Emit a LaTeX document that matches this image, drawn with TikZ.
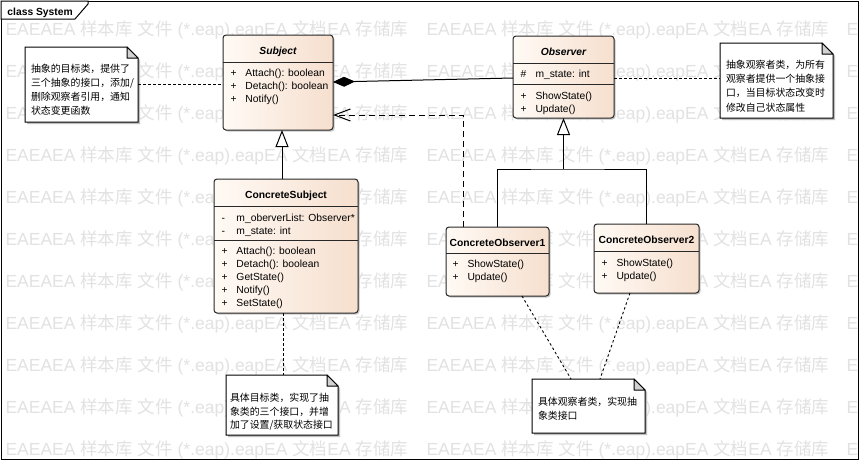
\documentclass[tikz,border=0pt]{standalone}
\usepackage{fontspec}
\setmainfont{Liberation Sans}
\newfontfamily\cjk{Noto Sans CJK SC}
\usetikzlibrary{arrows.meta}
\definecolor{wm}{RGB}{226,226,226}
\definecolor{clsL}{RGB}{255,250,245}
\definecolor{clsR}{RGB}{246,223,206}
\definecolor{foldc}{RGB}{210,210,210}
\definecolor{edge}{RGB}{40,40,40}
\newcommand\mrow[2]{\makebox[15pt][l]{#1}#2}
\newcommand\wmtext{EAEAEA {\cjk 样本库} {\cjk 文件} (*.eap).eapEA {\cjk 文档}EA {\cjk 存储库}}
% name, x, y, width, height
\newcommand\clsbox[5]{%
  \fill[black!22, rounded corners=3pt] (#2+1.5,#3+1.5) rectangle ++(#4,#5);
  \node[cls, minimum width=#4pt, minimum height=#5pt] (#1) at (#2,#3) {};}
\newcommand\notebox[5]{%
  \fill[black!25] (#2+2,#3+2) -- (#2+#4-9,#3+2) -- (#2+#4+2,#3+13) -- (#2+#4+2,#3+#5+2) -- (#2+2,#3+#5+2) -- cycle;
  \draw[fill=white] (#2,#3) -- (#2+#4-11,#3) -- (#2+#4,#3+11) -- (#2+#4,#3+#5) -- (#2,#3+#5) -- cycle;
  \draw[fill=foldc, line join=round] (#2+#4-11,#3) -- (#2+#4-11,#3+11) -- (#2+#4,#3+11) -- cycle;
  \node[notearea, minimum width=#4pt, minimum height=#5pt] (#1) at (#2,#3) {};}
\begin{document}
\begin{tikzpicture}[x=1pt,y=-1pt,line width=1pt,
  font=\fontsize{10.3}{13}\selectfont,
  cls/.style={draw=edge, rounded corners=3pt, left color=clsL, right color=clsR, anchor=north west, inner sep=0pt, outer sep=0pt},
  notearea/.style={anchor=north west, inner sep=0pt, outer sep=0pt},
  clstitle/.style={anchor=base, inner sep=0pt, font=\fontsize{10.3}{13}\selectfont\bfseries},
  clsititle/.style={anchor=base, inner sep=0pt, font=\fontsize{10.3}{13}\selectfont\bfseries\itshape},
  clsmem/.style={anchor=base west, inner sep=0pt},
  ntext/.style={anchor=base west, inner sep=0pt, font=\cjk\fontsize{9.9}{12}\selectfont},
  wmark/.style={anchor=base west, inner sep=0pt, text=wm, font=\fontsize{17.5}{20}\selectfont},
  sepline/.style={draw=edge},
  notelink/.style={line width=0.9pt, dash pattern=on 2.5pt off 2.5pt},
  deparrow/.style={dash pattern=on 6pt off 4pt, -{Straight Barb[length=16pt,width=12pt]}},
  genarrow/.style={-{Triangle[open,fill=white,length=17pt,width=13pt]}},
  compo/.style={{Diamond[length=22pt,width=10pt]}-}]
\useasboundingbox (0,0) rectangle (860,461);
\fill[white] (0,0) rectangle (860,461);

% watermark
\begin{scope}
  \clip (1,1) rectangle (858,459);
  \foreach \r in {0,...,10}{
    \foreach \c in {0,1}
      \node[wmark] (wm-\r-\c) at ({5+421*\c},{35+42*\r}) {\wmtext};
    \node[wmark] (wm-\r-2) at (846,{35+42*\r}) {E};
  }
\end{scope}

% frame
\draw (1,1) rectangle (858,459);
\draw[fill=white] (1,1) -- (88,1) -- (88,4) -- (75,19) -- (1,19) -- cycle;
\node[anchor=base west, inner sep=0pt, font=\fontsize{10.3}{13}\selectfont\bfseries] (frameT) at (7,15) {class System};

% classes
\clsbox{subj}{223}{35}{110}{95}
\clsbox{obs}{513}{36}{101}{82}
\clsbox{csub}{214}{179}{144}{134}
\clsbox{coa}{446}{227}{103}{69}
\clsbox{cob}{594}{224}{105}{69}

\draw[sepline] ([yshift=-27pt]subj.north west) -- ([yshift=-27pt]subj.north east);
\draw[sepline] ([yshift=-27pt]obs.north west) -- ([yshift=-27pt]obs.north east);
\draw[sepline] ([yshift=-48pt]obs.north west) -- ([yshift=-48pt]obs.north east);
\draw[sepline] ([yshift=-27pt]csub.north west) -- ([yshift=-27pt]csub.north east);
\draw[sepline] ([yshift=-61pt]csub.north west) -- ([yshift=-61pt]csub.north east);
\draw[sepline] ([yshift=-26pt]coa.north west) -- ([yshift=-26pt]coa.north east);
\draw[sepline] ([yshift=-27pt]cob.north west) -- ([yshift=-27pt]cob.north east);

\node[clsititle] (subjT) at (278,54) {Subject};
\foreach \t [count=\i from 0] in {Attach(): boolean, Detach(): boolean, Notify()}
  \node[clsmem] (subjm\i) at (230,{76.5+13*\i}) {\mrow{+}{\t}};

\node[clsititle] (obsT) at (563.5,55) {Observer};
\node[clsmem] (obsa) at (520,77.5) {\mrow{\#}{m\_state: int}};
\foreach \t [count=\i from 0] in {ShowState(), Update()}
  \node[clsmem] (obsm\i) at (520,{99+13*\i}) {\mrow{+}{\t}};

\node[clstitle] (csubT) at (286,198) {ConcreteSubject};
\node[clsmem] (csuba0) at (221,221) {\mrow{-}{m\_oberverList: Observer*}};
\node[clsmem] (csuba1) at (221,234) {\mrow{-}{m\_state: int}};
\foreach \t [count=\i from 0] in {Attach(): boolean, Detach(): boolean, GetState(), Notify(), SetState()}
  \node[clsmem] (csubm\i) at (221,{254+13*\i}) {\mrow{+}{\t}};

\node[clstitle] (coaT) at (497.5,246) {ConcreteObserver1};
\foreach \t [count=\i from 0] in {ShowState(), Update()}
  \node[clsmem] (coam\i) at (452,{267.5+13*\i}) {\mrow{+}{\t}};

\node[clstitle] (cobT) at (646.5,243) {ConcreteObserver2};
\foreach \t [count=\i from 0] in {ShowState(), Update()}
  \node[clsmem] (cobm\i) at (601,{266+13*\i}) {\mrow{+}{\t}};

% notes
\notebox{noteA}{25}{47}{113}{75}
\notebox{noteB}{720}{43}{113}{75}
\notebox{noteC}{226}{375}{112}{60}
\notebox{noteD}{532}{379}{113}{54}

\foreach \t [count=\i from 0] in {抽象的目标类，提供了, 三个抽象的接口，添加/, 删除观察者引用，通知, 状态变更函数}
  \node[ntext] (noteAt\i) at (30.5,{72+14.2*\i}) {\t};
\foreach \t [count=\i from 0] in {抽象观察者类，为所有, 观察者提供一个抽象接, 口，当目标状态改变时, 修改自己状态属性}
  \node[ntext] (noteBt\i) at (725.5,{68+14.4*\i}) {\t};
\foreach \t [count=\i from 0] in {具体目标类，实现了抽, 象类的三个接口，并增, 加了设置/获取状态接口}
  \node[ntext] (noteCt\i) at (229.5,{401.7+13.3*\i}) {\t};
\foreach \t [count=\i from 0] in {具体观察者类，实现抽, 象类接口}
  \node[ntext] (noteDt\i) at (537.5,{405+14*\i}) {\t};

% connectors
\draw[compo] ([yshift=-47pt]subj.north east) -- ([yshift=-42pt]obs.north west);
\coordinate (g1) at (282,150);
\draw[genarrow] (csub.north -| g1) -- (subj.south -| g1);
\coordinate (d1) at (463,115);
\draw[deparrow] (coa.north -| d1) |- (subj.east |- d1);
\coordinate (j1) at (563.5,169);
\draw (coa.north) |- (j1) -| (cob.north);
\draw[genarrow] (j1) -- (obs.south);

\draw[notelink] ([yshift=-37pt]noteA.north east) -- ([yshift=-49pt]subj.north west);
\draw[notelink] ([yshift=-42pt]obs.north east) -- ([yshift=-35pt]noteB.north west);
\draw[notelink] ([xshift=-3pt]csub.south) -- ([xshift=1pt]noteC.north);
\draw[notelink] ([xshift=24.5pt]coa.south) -- ([xshift=-17.5pt]noteD.north);
\draw[notelink] ([xshift=-16.5pt]cob.south) -- ([xshift=11.5pt]noteD.north);
\end{tikzpicture}
\end{document}
